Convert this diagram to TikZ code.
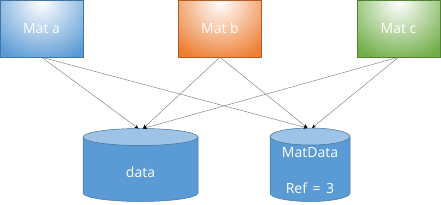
\documentclass[tikz,border=0pt]{standalone}
\usepackage{fontspec}
\setmainfont{Open Sans}
\usetikzlibrary{arrows.meta}
\definecolor{ablue}{HTML}{5B9BD5}
\definecolor{aorange}{HTML}{ED7D31}
\definecolor{agreen}{HTML}{70AD47}
\definecolor{cylline}{HTML}{41719C}
\definecolor{cyltop}{HTML}{9DC3E6}
\tikzset{
  matbox/.style={minimum width=83pt, minimum height=57pt, inner sep=0pt, text=white,
    font=\fontsize{14}{16}\selectfont, draw=#1!75!black, line width=0.4pt, fill=#1,
    path picture={\shade[inner color=white, outer color=#1]
      ([yshift=-2pt]path picture bounding box.north) circle (62pt);}},
  link/.style={draw=black!55, line width=0.4pt, -{Stealth[length=4pt,width=3.5pt,color=black]}},
  cyltext/.style={text=white, font=\fontsize{14}{16}\selectfont, inner sep=0pt},
  cylbody/.style={fill=ablue, draw=cylline, line width=0.5pt},
  cyltopst/.style={fill=cyltop, draw=cylline, line width=0.5pt},
}
\begin{document}
\begin{tikzpicture}[x=1pt,y=-1pt]
\useasboundingbox (0,0) rectangle (441,204);
% boxes
\node[matbox=ablue] (ma) at (41.5,28.5) {Mat a};
\node[matbox=aorange] (mb) at (220,28.5) {Mat b};
\node[matbox=agreen] (mc) at (398.5,28.5) {Mat c};
% cylinder data
\path[cylbody]
  (83,137) -- (83,193) arc[start angle=180, end angle=0, x radius=57.5, y radius=8.5]
  -- (198,137) -- cycle;
\path[cyltopst] (140.5,137) ellipse[x radius=57.5, y radius=8.5];
\node[cyltext] (data) at (140.5,172) {data};
% cylinder MatData
\path[cylbody]
  (270,136.5) -- (270,193) arc[start angle=180, end angle=0, x radius=40, y radius=8.5]
  -- (350,136.5) -- cycle;
\path[cyltopst] (310,136.5) ellipse[x radius=40, y radius=8.5];
\node[cyltext] (md) at (310,153) {MatData};
\node[cyltext] (ref) at (310,188) {Ref\hspace{0.4em}=\hspace{0.4em}3};
% connector end points
\coordinate (d1) at (138.5,128.5);
\coordinate (d2) at (143,128.5);
\coordinate (m1) at (307.5,128);
\coordinate (m2) at (312,128);
\draw[link] (ma.south) -- (d1);
\draw[link] (mb.south) -- (d2);
\draw[link] (mc.south) -- (d2);
\draw[link] (ma.south) -- (m1);
\draw[link] (mb.south) -- (m1);
\draw[link] (mc.south) -- (m2);
\end{tikzpicture}
\end{document}
